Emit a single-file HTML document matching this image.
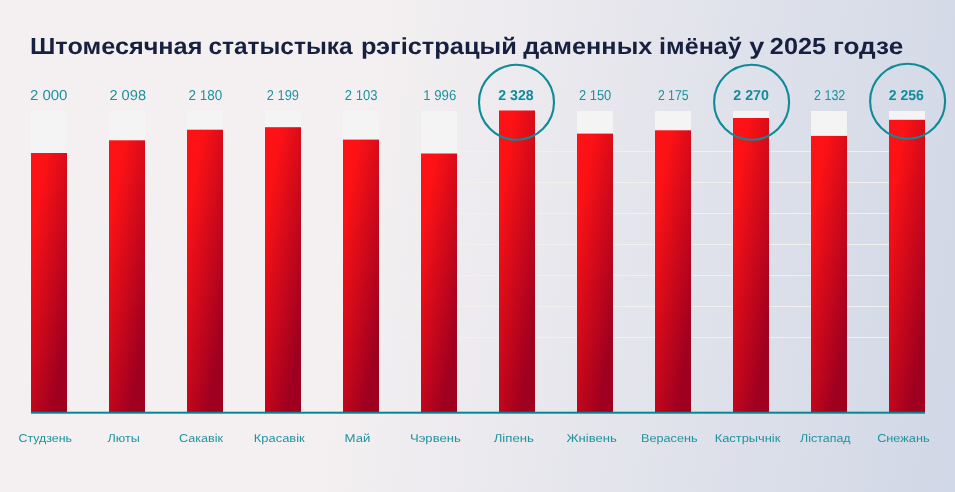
<!DOCTYPE html>
<html lang="be">
<head>
<meta charset="utf-8">
<title>Штомесячная статыстыка рэгістрацый даменных імёнаў у 2025 годзе</title>
<style>
html,body{margin:0;padding:0;}
body{width:955px;height:492px;overflow:hidden;background:#f3f0f0;font-family:"Liberation Sans",sans-serif;}
svg{display:block;}
text{font-family:"Liberation Sans",sans-serif;text-rendering:geometricPrecision;}
.title{font-weight:700;font-size:23.25px;fill:#17213f;text-rendering:geometricPrecision;}
.val{font-size:14.3px;fill:#1d919d;}
.valb{font-size:14.3px;font-weight:700;fill:#128c98;}
.mon{font-size:11.4px;fill:#21929e;}
</style>
</head>
<body>
<svg width="955" height="492" viewBox="0 0 955 492">
<defs>
<linearGradient id="bg" gradientUnits="userSpaceOnUse" x1="0" y1="0" x2="1010" y2="144">
<stop offset="0" stop-color="#f4f0f1"/>
<stop offset="0.369" stop-color="#f4f0f1"/>
<stop offset="1" stop-color="#d0d7e6"/>
</linearGradient>
<linearGradient id="bar" x1="0" y1="0" x2="0.804" y2="1.138">
<stop offset="0" stop-color="#fd1215"/>
<stop offset="0.185" stop-color="#fc1215"/>
<stop offset="0.82" stop-color="#a00020"/>
<stop offset="1" stop-color="#a00020"/>
</linearGradient>
</defs>
<rect x="0" y="0" width="955" height="492" fill="url(#bg)"/>
<rect x="31" y="151" width="894" height="1" fill="#f1f0ed"/>
<rect x="31" y="182" width="894" height="1" fill="#f1f0ed"/>
<rect x="31" y="213" width="894" height="1" fill="#f1f0ed"/>
<rect x="31" y="244" width="894" height="1" fill="#f1f0ed"/>
<rect x="31" y="275" width="894" height="1" fill="#f1f0ed"/>
<rect x="31" y="306" width="894" height="1" fill="#f1f0ed"/>
<rect x="31" y="337" width="894" height="1" fill="#f1f0ed"/>
<text class="title" y="53.9"><tspan x="29.98" textLength="172.42" lengthAdjust="spacingAndGlyphs">Штомесячная</tspan> <tspan x="208.43" textLength="144.11" lengthAdjust="spacingAndGlyphs">статыстыка</tspan> <tspan x="360.92" textLength="155.92" lengthAdjust="spacingAndGlyphs">рэгістрацый</tspan> <tspan x="523.18" textLength="129.14" lengthAdjust="spacingAndGlyphs">даменных</tspan> <tspan x="659.12" textLength="82.67" lengthAdjust="spacingAndGlyphs">імёнаў</tspan> <tspan x="749.21" textLength="15.05" lengthAdjust="spacingAndGlyphs">у</tspan> <tspan x="769.86" textLength="56.19" lengthAdjust="spacingAndGlyphs">2025</tspan> <tspan x="832.92" textLength="70.29" lengthAdjust="spacingAndGlyphs">годзе</tspan></text>
<rect x="31" y="111" width="36" height="301" fill="#f4f4f4"/>
<rect x="31" y="153.0" width="36" height="259.0" fill="url(#bar)"/>
<rect x="109" y="111" width="36" height="301" fill="#f4f4f4"/>
<rect x="109" y="140.3" width="36" height="271.7" fill="url(#bar)"/>
<rect x="187" y="111" width="36" height="301" fill="#f4f4f4"/>
<rect x="187" y="129.7" width="36" height="282.3" fill="url(#bar)"/>
<rect x="265" y="111" width="36" height="301" fill="#f4f4f4"/>
<rect x="265" y="127.2" width="36" height="284.8" fill="url(#bar)"/>
<rect x="343" y="111" width="36" height="301" fill="#f4f4f4"/>
<rect x="343" y="139.6" width="36" height="272.4" fill="url(#bar)"/>
<rect x="421" y="111" width="36" height="301" fill="#f4f4f4"/>
<rect x="421" y="153.5" width="36" height="258.5" fill="url(#bar)"/>
<rect x="499" y="111" width="36" height="301" fill="#f4f4f4"/>
<rect x="499" y="110.5" width="36" height="301.5" fill="url(#bar)"/>
<rect x="577" y="111" width="36" height="301" fill="#f4f4f4"/>
<rect x="577" y="133.6" width="36" height="278.4" fill="url(#bar)"/>
<rect x="655" y="111" width="36" height="301" fill="#f4f4f4"/>
<rect x="655" y="130.3" width="36" height="281.7" fill="url(#bar)"/>
<rect x="733" y="111" width="36" height="301" fill="#f4f4f4"/>
<rect x="733" y="118.0" width="36" height="294.0" fill="url(#bar)"/>
<rect x="811" y="111" width="36" height="301" fill="#f4f4f4"/>
<rect x="811" y="135.9" width="36" height="276.1" fill="url(#bar)"/>
<rect x="889" y="111" width="36" height="301" fill="#f4f4f4"/>
<rect x="889" y="119.8" width="36" height="292.2" fill="url(#bar)"/>
<rect x="31" y="411.7" width="894" height="2" fill="#06868f"/>
<text class="val" x="29.93" y="100" textLength="37.50" lengthAdjust="spacingAndGlyphs">2 000</text>
<text class="mon" x="18.55" y="442.3" textLength="53.44" lengthAdjust="spacingAndGlyphs">Студзень</text>
<text class="val" x="109.40" y="100" textLength="36.68" lengthAdjust="spacingAndGlyphs">2 098</text>
<text class="mon" x="107.52" y="442.3" textLength="32.29" lengthAdjust="spacingAndGlyphs">Люты</text>
<text class="val" x="188.40" y="100" textLength="33.75" lengthAdjust="spacingAndGlyphs">2 180</text>
<text class="mon" x="179.07" y="442.3" textLength="43.98" lengthAdjust="spacingAndGlyphs">Сакавік</text>
<text class="val" x="266.87" y="100" textLength="32.05" lengthAdjust="spacingAndGlyphs">2 199</text>
<text class="mon" x="253.83" y="442.3" textLength="50.86" lengthAdjust="spacingAndGlyphs">Красавік</text>
<text class="val" x="344.83" y="100" textLength="32.68" lengthAdjust="spacingAndGlyphs">2 103</text>
<text class="mon" x="344.52" y="442.3" textLength="25.89" lengthAdjust="spacingAndGlyphs">Май</text>
<text class="val" x="423.30" y="100" textLength="32.99" lengthAdjust="spacingAndGlyphs">1 996</text>
<text class="mon" x="409.96" y="442.3" textLength="50.82" lengthAdjust="spacingAndGlyphs">Чэрвень</text>
<text class="valb" x="498.31" y="100" textLength="35.39" lengthAdjust="spacingAndGlyphs">2 328</text>
<text class="mon" x="493.73" y="442.3" textLength="40.20" lengthAdjust="spacingAndGlyphs">Ліпень</text>
<text class="val" x="578.88" y="100" textLength="32.43" lengthAdjust="spacingAndGlyphs">2 150</text>
<text class="mon" x="566.44" y="442.3" textLength="50.29" lengthAdjust="spacingAndGlyphs">Жнівень</text>
<text class="val" x="657.91" y="100" textLength="30.63" lengthAdjust="spacingAndGlyphs">2 175</text>
<text class="mon" x="640.98" y="442.3" textLength="56.69" lengthAdjust="spacingAndGlyphs">Верасень</text>
<text class="valb" x="733.30" y="100" textLength="35.63" lengthAdjust="spacingAndGlyphs">2 270</text>
<text class="mon" x="714.74" y="442.3" textLength="65.60" lengthAdjust="spacingAndGlyphs">Кастрычнік</text>
<text class="val" x="814.08" y="100" textLength="31.21" lengthAdjust="spacingAndGlyphs">2 132</text>
<text class="mon" x="800.08" y="442.3" textLength="50.51" lengthAdjust="spacingAndGlyphs">Лістапад</text>
<text class="valb" x="888.76" y="100" textLength="35.13" lengthAdjust="spacingAndGlyphs">2 256</text>
<text class="mon" x="877.17" y="442.3" textLength="52.40" lengthAdjust="spacingAndGlyphs">Снежань</text>
<circle cx="516.5" cy="102.3" r="37.5" fill="none" stroke="#0e8b96" stroke-width="2.1"/>
<circle cx="751.6" cy="102.3" r="37.5" fill="none" stroke="#0e8b96" stroke-width="2.1"/>
<circle cx="907.6" cy="101.3" r="37.5" fill="none" stroke="#0e8b96" stroke-width="2.1"/>
</svg>
</body>
</html>
